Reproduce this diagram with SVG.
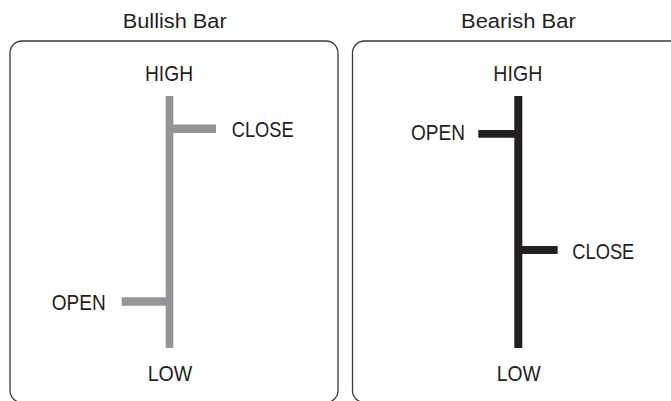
<svg xmlns="http://www.w3.org/2000/svg" width="671" height="401" viewBox="0 0 671 401">
<style>
.box{fill:none;stroke:#3a3a3a;stroke-width:1.3}
.t{font-family:"Liberation Sans",Arial,sans-serif;fill:#231f20}
.title{font-size:20px}
.lbl{font-size:22px}
.bull{stroke:#939598;fill:none;stroke-linecap:butt}
.bear{stroke:#231f20;fill:none;stroke-linecap:butt}
</style>
<rect width="671" height="401" fill="#ffffff"/>
<g id="bullish">
<rect class="box" x="10" y="41" width="328" height="361.5" rx="12"/>
<text class="t title" x="122.7" y="28.3" textLength="104" lengthAdjust="spacingAndGlyphs">Bullish Bar</text>
<text class="t lbl" x="145" y="81" textLength="48" lengthAdjust="spacingAndGlyphs">HIGH</text>
<text class="t lbl" x="231.7" y="137.3" textLength="62" lengthAdjust="spacingAndGlyphs">CLOSE</text>
<text class="t lbl" x="51.7" y="309.5" textLength="54" lengthAdjust="spacingAndGlyphs">OPEN</text>
<text class="t lbl" x="147.7" y="381" textLength="44.6" lengthAdjust="spacingAndGlyphs">LOW</text>
<line class="bull" x1="169.5" y1="96" x2="169.5" y2="348" stroke-width="7.6"/>
<line class="bull" x1="169.5" y1="128.8" x2="216" y2="128.8" stroke-width="8.5"/>
<line class="bull" x1="121.7" y1="301.5" x2="169.5" y2="301.5" stroke-width="8.5"/>
</g>
<g id="bearish">
<rect class="box" x="352.5" y="41" width="340" height="361.5" rx="12"/>
<text class="t title" x="461" y="28.3" textLength="114.7" lengthAdjust="spacingAndGlyphs">Bearish Bar</text>
<text class="t lbl" x="493.3" y="81" textLength="49" lengthAdjust="spacingAndGlyphs">HIGH</text>
<text class="t lbl" x="411" y="140" textLength="54" lengthAdjust="spacingAndGlyphs">OPEN</text>
<text class="t lbl" x="572.3" y="259.3" textLength="62" lengthAdjust="spacingAndGlyphs">CLOSE</text>
<text class="t lbl" x="496.7" y="381" textLength="44" lengthAdjust="spacingAndGlyphs">LOW</text>
<line class="bear" x1="518.3" y1="96" x2="518.3" y2="348" stroke-width="8"/>
<line class="bear" x1="478.3" y1="133.8" x2="518.3" y2="133.8" stroke-width="7.7"/>
<line class="bear" x1="518.3" y1="250" x2="557.7" y2="250" stroke-width="8"/>
</g>
<g id="connectors"></g>
</svg>
